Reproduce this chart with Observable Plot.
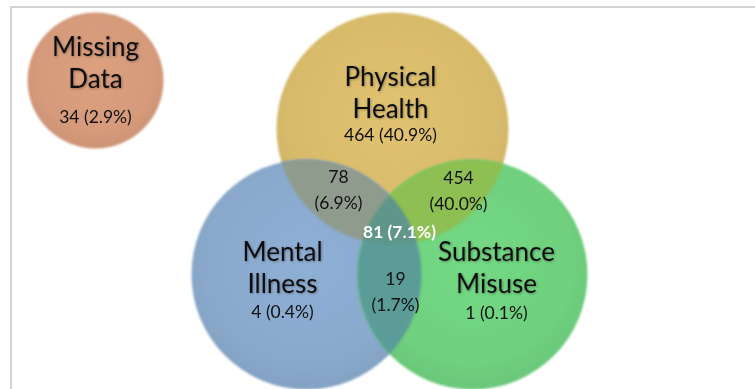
<!DOCTYPE html>
<html>
<head>
<meta charset="utf-8">
<script src="https://cdn.jsdelivr.net/npm/d3@7"></script>
<script src="https://cdn.jsdelivr.net/npm/@observablehq/plot@0.6"></script>
<style>
  html, body { margin: 0; padding: 0; background: #fff; }
  #chart { position: relative; width: 755px; height: 389px; overflow: hidden; }
  #chart .frame {
    position: absolute; left: 10px; top: 6px; right: 0; bottom: 0;
    border-left: 2px solid #d3d3d3; border-top: 2px solid #d3d3d3;
    pointer-events: none;
  }
</style>
</head>
<body>
<div id="chart"><div class="frame"></div></div>
<script>
// People counted in exactly one group
const groups = ["Physical Health", "Mental Illness", "Substance Misuse", "Missing Data"];
const groupCounts = [464, 4, 1, 34];
const groupPcts = [40.9, 0.4, 0.1, 2.9];

// People counted in more than one group
const overlapNames = [
  "Physical Health + Mental Illness",
  "Physical Health + Substance Misuse",
  "Mental Illness + Substance Misuse",
  "All three"
];
const overlapCounts = [78, 454, 19, 81];
const overlapPcts = [6.9, 40.0, 1.7, 7.1];

// Diagram layout (pixel space) and colours
const circleLayout = {
  "Physical Health":  {id: "ph", cx: 392, cy: 128, r: 116, fill: "#d8bb6b", nameX: 390, nameY: 117, countY: 140},
  "Mental Illness":   {id: "mi", cx: 306, cy: 274, r: 115, fill: "#89a9cc", nameX: 282, nameY: 292, countY: 317},
  "Substance Misuse": {id: "sm", cx: 472, cy: 274, r: 115, fill: "#6fd07e", nameX: 496, nameY: 292, countY: 318},
  "Missing Data":     {id: "md", cx: 95,  cy: 80,  r: 68,  fill: "#d49a7a", nameX: 95,  nameY: 87,  countY: 122}
};
// Each overlap is painted as one circle clipped to the others
const overlapLayout = {
  "Physical Health + Mental Illness":  {shape: "Mental Illness",   clip: ["Physical Health"], fill: "#8f9b8c", x: 338, y: 208},
  "Physical Health + Substance Misuse": {shape: "Substance Misuse", clip: ["Physical Health"], fill: "#8dbf52", x: 458, y: 209},
  "Mental Illness + Substance Misuse":  {shape: "Substance Misuse", clip: ["Mental Illness"],  fill: "#5c9c98", x: 395, y: 310},
  "All three":                          {shape: "Substance Misuse", clip: ["Physical Health", "Mental Illness"], fill: "#5e9689", x: 399, y: 237}
};

const circleRows = groups.map((name, i) => ({
  name, count: groupCounts[i], pct: groupPcts[i], ...circleLayout[name]
}));
const patchRows = overlapNames.map((name, i) => {
  const o = overlapLayout[name];
  const c = circleLayout[o.shape];
  return {name, count: overlapCounts[i], pct: overlapPcts[i], cx: c.cx, cy: c.cy, r: c.r, ...o};
});

const SVGNS = "http://www.w3.org/2000/svg";
const font = "Lato, 'Open Sans', sans-serif";

const plot = Plot.plot({
  width: 755,
  height: 389,
  margin: 0,
  x: {domain: [0, 755], range: [0, 755], axis: null},
  y: {domain: [0, 389], range: [0, 389], axis: null},
  r: {type: "identity"},
  color: {type: "identity"},
  style: {fontFamily: font, background: "transparent"},
  marks: [
    // Set circles, with clip paths, gradients and filters defined from them
    Plot.dot(circleRows, {
      x: "cx", y: "cy", r: "r", fill: "fill", stroke: null,
      render(index, scales, values, dims, ctx, next) {
        const g = next(index, scales, values, dims, ctx);
        const sel = d3.select(g);
        const defs = sel.insert("defs", ":first-child");
        const soft = defs.append("filter").attr("id", "soft")
          .attr("x", "-10%").attr("y", "-10%").attr("width", "120%").attr("height", "120%");
        soft.append("feGaussianBlur").attr("stdDeviation", 0.8);
        const glow = defs.append("filter").attr("id", "glow")
          .attr("x", "-20%").attr("y", "-30%").attr("width", "140%").attr("height", "160%");
        glow.append("feDropShadow").attr("dx", 0.8).attr("dy", 0.8)
          .attr("stdDeviation", 1.1).attr("flood-color", "#000").attr("flood-opacity", 0.35);
        sel.selectAll("circle").each(function (i) {
          const row = circleRows[i];
          defs.append("clipPath").attr("id", `clip-${row.id}`)
            .append("circle")
            .attr("cx", this.getAttribute("cx"))
            .attr("cy", this.getAttribute("cy"))
            .attr("r", this.getAttribute("r"));
          const base = d3.color(row.fill);
          const grad = defs.append("radialGradient").attr("id", `grad-${row.id}`)
            .attr("cx", "50%").attr("cy", "45%").attr("r", "55%");
          grad.append("stop").attr("offset", "0%").attr("stop-color", base.brighter(0.12).formatHex());
          grad.append("stop").attr("offset", "80%").attr("stop-color", base.formatHex());
          grad.append("stop").attr("offset", "100%").attr("stop-color", base.darker(0.12).formatHex());
          this.setAttribute("fill", `url(#grad-${row.id})`);
        });
        g.setAttribute("filter", "url(#soft)");
        return g;
      }
    }),
    // Overlap regions
    Plot.dot(patchRows, {
      x: "cx", y: "cy", r: "r", fill: "fill", stroke: null,
      render(index, scales, values, dims, ctx, next) {
        const g = next(index, scales, values, dims, ctx);
        d3.select(g).selectAll("circle").each(function (i) {
          const ids = patchRows[i].clip.map((n) => circleLayout[n].id);
          let el = this;
          el.setAttribute("clip-path", `url(#clip-${ids[0]})`);
          for (const id of ids.slice(1)) {
            const wrap = document.createElementNS(SVGNS, "g");
            wrap.setAttribute("clip-path", `url(#clip-${id})`);
            el.parentNode.insertBefore(wrap, el);
            wrap.appendChild(el);
            el = wrap;
          }
        });
        g.setAttribute("filter", "url(#soft)");
        return g;
      }
    }),
    // Group names
    Plot.text(circleRows, {
      x: "nameX", y: "nameY",
      text: (d) => d.name.replace(" ", "\n"),
      lineAnchor: "bottom", lineHeight: 1.2,
      fontSize: 26, fill: "#111",
      render(index, scales, values, dims, ctx, next) {
        const g = next(index, scales, values, dims, ctx);
        g.setAttribute("filter", "url(#glow)");
        return g;
      }
    }),
    // Group counts
    Plot.text(circleRows, {
      x: "nameX", y: "countY",
      text: (d) => `${d.count} (${d.pct.toFixed(1)}%)`,
      lineAnchor: "bottom", fontSize: 17.5, fill: "#111"
    }),
    // Two-way overlap counts
    Plot.text(patchRows, {
      filter: (d) => d.clip.length === 1,
      x: "x", y: "y",
      text: (d) => `${d.count}\n(${d.pct.toFixed(1)}%)`,
      lineAnchor: "bottom", lineHeight: 1.45, fontSize: 17.5, fill: "#111"
    }),
    // Three-way overlap count
    Plot.text(patchRows, {
      filter: (d) => d.clip.length > 1,
      x: "x", y: "y",
      text: (d) => `${d.count} (${d.pct.toFixed(1)}%)`,
      lineAnchor: "bottom", fontSize: 17.5, fontWeight: "bold", fill: "#fff"
    })
  ]
});

document.getElementById("chart").prepend(plot);
</script>
</body>
</html>
